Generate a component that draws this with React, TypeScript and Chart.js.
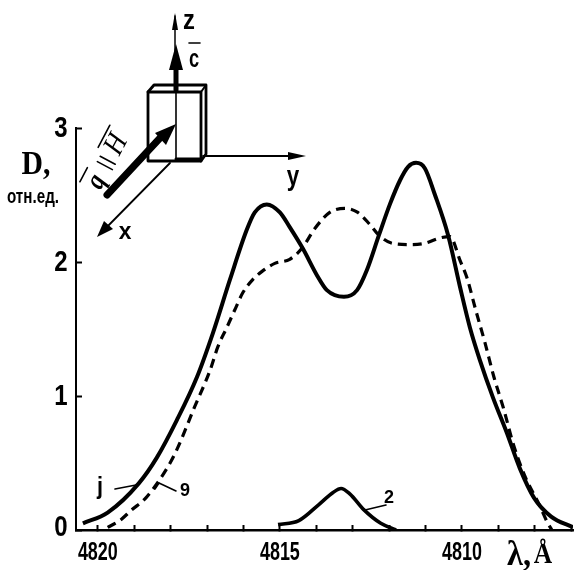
import React, { useEffect, useRef } from "react";
import { Chart, registerables } from "chart.js";

Chart.register(...registerables);

const curve1X = [4820.41, 4819.73, 4818.87, 4818.38, 4817.83, 4817.28, 4816.84, 4816.37, 4815.91, 4815.69, 4815.36, 4815.0, 4814.73, 4814.37, 4813.98, 4813.71, 4813.24, 4812.88, 4812.61, 4812.28, 4811.98, 4811.7, 4811.48, 4811.26, 4811.02, 4810.74, 4810.38, 4810.05, 4809.78, 4809.51, 4809.15, 4808.76, 4808.41, 4808.02, 4807.55, 4806.95];
const curve1Y = [0.05, 0.13, 0.35, 0.54, 0.82, 1.14, 1.47, 1.87, 2.24, 2.37, 2.43, 2.37, 2.26, 2.1, 1.9, 1.79, 1.74, 1.79, 1.94, 2.2, 2.43, 2.61, 2.71, 2.74, 2.7, 2.5, 2.2, 1.81, 1.51, 1.27, 0.99, 0.72, 0.46, 0.24, 0.1, 0.02];
const curve3X = [4819.73, 4819.4, 4819.07, 4818.68, 4818.08, 4817.83, 4817.34, 4816.92, 4816.7, 4816.46, 4816.21, 4816.02, 4815.74, 4815.49, 4815.14, 4814.73, 4814.4, 4814.04, 4813.63, 4813.21, 4812.86, 4812.53, 4812.28, 4811.92, 4811.43, 4811.02, 4810.6, 4810.33, 4810.05, 4809.86, 4809.62, 4809.37, 4809.12, 4808.85, 4808.6, 4808.3, 4807.88, 4807.66, 4807.53];
const curve3Y = [0.02, 0.07, 0.15, 0.24, 0.47, 0.6, 0.92, 1.19, 1.37, 1.51, 1.66, 1.77, 1.87, 1.93, 1.99, 2.02, 2.1, 2.25, 2.37, 2.4, 2.37, 2.28, 2.2, 2.14, 2.13, 2.14, 2.18, 2.19, 2.01, 1.88, 1.64, 1.4, 1.14, 0.9, 0.65, 0.42, 0.19, 0.06, 0];
const curve2X = [4815.05, 4814.48, 4813.93, 4813.54, 4813.32, 4813.08, 4812.69, 4812.23, 4811.81];
const curve2Y = [0.04, 0.07, 0.19, 0.28, 0.31, 0.27, 0.15, 0.05, 0];
const labeledWavelengths = [4820, 4815, 4810];

const toPoints = (xs: number[], ys: number[]) => xs.map((x, i) => ({ x, y: ys[i] }));

const SANS = '"Liberation Sans", sans-serif';
const SERIF = '"Liberation Serif", serif';

function line(ctx: CanvasRenderingContext2D, pts: number[][], width: number) {
  ctx.beginPath();
  ctx.lineWidth = width;
  pts.forEach((p, i) => (i ? ctx.lineTo(p[0], p[1]) : ctx.moveTo(p[0], p[1])));
  ctx.stroke();
}

function poly(ctx: CanvasRenderingContext2D, pts: number[][]) {
  ctx.beginPath();
  pts.forEach((p, i) => (i ? ctx.lineTo(p[0], p[1]) : ctx.moveTo(p[0], p[1])));
  ctx.closePath();
  ctx.fill();
}

// text squeezed horizontally by sx, like the condensed lettering of the print
function text(ctx: CanvasRenderingContext2D, s: string, x: number, y: number, font: string, sx = 1) {
  ctx.save();
  ctx.translate(x, y);
  ctx.scale(sx, 1);
  ctx.font = font;
  ctx.textAlign = "center";
  ctx.textBaseline = "middle";
  ctx.fillText(s, 0, 0);
  ctx.restore();
}

const annotations = {
  id: "annotations",
  afterDraw(chart: Chart) {
    const ctx = chart.ctx;
    const sx = chart.scales.x as any;
    const sy = chart.scales.y as any;
    ctx.save();
    ctx.strokeStyle = "#000";
    ctx.fillStyle = "#000";
    ctx.lineCap = "round";
    ctx.lineJoin = "round";

    // tick labels, placed by the library's scales
    sx.ticks.forEach((t: any) => {
      if (t.label) text(ctx, String(t.label), sx.getPixelForValue(t.value), 553, `bold 26px ${SANS}`, 0.69);
    });
    sy.ticks.forEach((t: any) => {
      const px = sy.getPixelForValue(t.value);
      text(ctx, String(t.label), 61, t.value === 0 ? px - 2 : px + 1, `bold 30px ${SANS}`, 0.8);
    });

    // coordinate axes of the inset
    line(ctx, [[175, 88], [175, 16]], 1.5);
    poly(ctx, [[175, 13], [172, 30], [178, 30]]);
    line(ctx, [[203, 156], [298, 156]], 1.8);
    poly(ctx, [[306, 156], [288, 152], [288, 160]]);
    line(ctx, [[170, 163], [102, 232]], 1.8);
    poly(ctx, [[97, 237], [104, 221], [113, 229]]);

    // crystal block
    line(ctx, [[148, 92], [201, 92], [201, 161], [148, 161], [148, 92]], 2.8);
    line(ctx, [[148, 92], [154, 85], [206, 85], [206, 154], [201, 161]], 2.8);
    line(ctx, [[201, 92], [206, 85]], 2);
    line(ctx, [[176, 92], [176, 160]], 1.6);
    line(ctx, [[176, 159], [200, 159]], 3);

    // c arrow
    line(ctx, [[176, 90], [176, 60]], 5);
    poly(ctx, [[176, 44], [169, 70], [183, 70]]);

    // q arrow
    line(ctx, [[107, 195], [160, 138]], 7);
    poly(ctx, [[176, 124], [155, 133], [166, 145]]);

    // inset labels
    text(ctx, "z", 189, 21, `bold 28px ${SANS}`, 0.85);
    text(ctx, "c", 194, 60, `bold 26px ${SANS}`, 0.7);
    line(ctx, [[189, 43], [200, 43]], 1.6);
    text(ctx, "x", 125, 232, `bold 24px ${SANS}`, 0.95);
    text(ctx, "y", 293, 177, `bold 28px ${SANS}`, 0.8);

    ctx.save();
    ctx.translate(110, 157);
    ctx.rotate(-Math.PI / 2.9);
    text(ctx, "q", -28, 0, `bold italic 28px ${SERIF}`, 0.85);
    line(ctx, [[-36, -15], [-20, -15]], 1.6);
    line(ctx, [[-10, -9], [-10, 8]], 1.6);
    line(ctx, [[-4, -9], [-4, 8]], 1.6);
    text(ctx, "H", 14, 0, `italic 30px ${SERIF}`, 0.85);
    line(ctx, [[3, -15], [28, -15]], 1.6);
    ctx.restore();

    // axis titles
    text(ctx, "D,", 36, 165, `bold 33px ${SERIF}`, 0.9);
    text(ctx, "отн.ед.", 33, 197, `bold 20px ${SANS}`, 0.76);
    text(ctx, "λ,", 519, 556, `bold 36px ${SERIF}`, 0.9);
    text(ctx, "Å", 543, 555, `bold 30px ${SERIF}`, 0.85);

    // curve numbers with their leaders
    text(ctx, "j", 100, 487, `bold 24px ${SANS}`, 0.9);
    line(ctx, [[115, 489], [136, 485]], 1.6);
    text(ctx, "9", 185, 491, `bold 18px ${SANS}`);
    line(ctx, [[155, 489], [159, 483], [176, 491]], 1.6);
    text(ctx, "2", 389, 498, `bold 18px ${SANS}`);
    line(ctx, [[365, 510], [386, 505]], 1.6);
    ctx.restore();
  },
};

export default function App() {
  const ref = useRef<HTMLCanvasElement | null>(null);

  useEffect(() => {
    const chart = new Chart(ref.current as HTMLCanvasElement, {
      type: "line",
      data: {
        datasets: [
          { label: "1", data: toPoints(curve1X, curve1Y), borderColor: "#000", borderWidth: 4, pointRadius: 0, cubicInterpolationMode: "monotone", fill: false },
          { label: "3", data: toPoints(curve3X, curve3Y), borderColor: "#000", borderWidth: 3.2, borderDash: [9, 6], pointRadius: 0, cubicInterpolationMode: "monotone", fill: false },
          { label: "2", data: toPoints(curve2X, curve2Y), borderColor: "#000", borderWidth: 3.6, pointRadius: 0, cubicInterpolationMode: "monotone", fill: false },
        ],
      },
      options: {
        responsive: false,
        animation: false,
        layout: { padding: { top: 128, right: 1, left: 0, bottom: 0 } },
        plugins: { legend: { display: false }, tooltip: { enabled: false } },
        scales: {
          x: {
            type: "linear",
            reverse: true,
            min: 4806.95,
            max: 4820.6,
            afterFit: (s: any) => { s.height = 40; s.paddingLeft = 0; s.paddingRight = 0; },
            border: { color: "#000", width: 2.5 },
            grid: { drawOnChartArea: false, tickLength: -5, tickColor: "#000", tickWidth: 2 },
            ticks: {
              stepSize: 1,
              includeBounds: false,
              autoSkip: false,
              maxRotation: 0,
              display: false,
              callback: (v: any) => (labeledWavelengths.includes(Number(v)) ? String(v) : ""),
            },
          },
          y: {
            min: 0,
            max: 3,
            afterFit: (s: any) => { s.width = 76; s.paddingTop = 0; s.paddingBottom = 0; },
            border: { color: "#000", width: 2 },
            grid: { drawOnChartArea: false, tickLength: -6, tickColor: "#000", tickWidth: 2 },
            ticks: { stepSize: 1, display: false },
          },
        },
      },
      plugins: [annotations],
    } as any);
    return () => chart.destroy();
  }, []);

  return (
    <div style={{ position: "absolute", left: 0, top: 0, width: 574, height: 570, background: "#fff" }}>
      <canvas ref={ref} width={574} height={570} style={{ display: "block" }} />
    </div>
  );
}
